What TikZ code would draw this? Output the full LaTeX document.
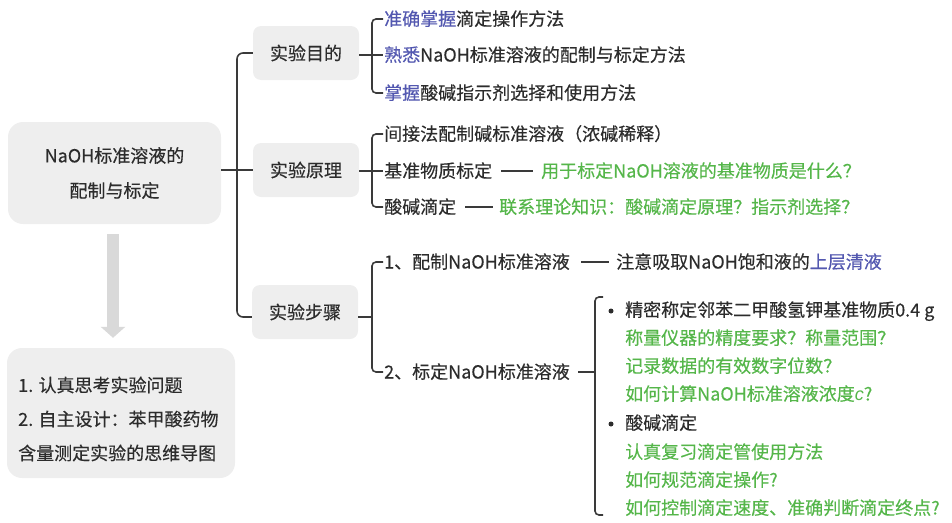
\documentclass[tikz,border=0pt]{standalone}
\usepackage{fontspec}
\setmainfont{Noto Sans CJK SC}[FakeBold=0.35]
\newfontfamily\latinfont{Liberation Sans}
\usetikzlibrary{arrows.meta}
\definecolor{ink}{HTML}{2C2C2C}
\definecolor{cblue}{HTML}{5358B0}
\definecolor{cgreen}{HTML}{55B64A}
\definecolor{boxgray}{HTML}{EEEEEE}
\definecolor{arrowgray}{HTML}{D9D9D9}
\definecolor{linec}{HTML}{3A3A3A}
\begin{document}
\begin{tikzpicture}[x=1pt,y=-1pt,
  every node/.style={font=\fontsize{18}{22}\selectfont, text=ink},
  titlebox/.style={fill=boxgray, rounded corners=8pt, minimum width=106pt, minimum height=54pt, inner sep=0pt},
  bigbox/.style={fill=boxgray, rounded corners=15pt, inner sep=0pt},
  txt/.style={anchor=west, inner sep=1pt, text height=15pt, text depth=2pt},
  qtxt/.style={txt, text=cgreen},
  conn/.style={draw=linec, line width=1.6pt},
  dashc/.style={draw=linec, line width=1.5pt},
  bulletdot/.style={fill=ink},
]
\useasboundingbox (0,0) rectangle (952,522);

% main box and follow-up box
\node[bigbox, minimum width=213pt, minimum height=102pt, align=center, font=\fontsize{18}{35}\selectfont] (main) at (114.5,173) {NaOH标准溶液的\\配制与标定};
\node[bigbox, minimum width=228pt, minimum height=130pt] (bot) at (121,413) {};
\node[anchor=west, align=left, inner sep=0pt, font=\fontsize{18}{34}\selectfont] (bottxt) at (18,419) {1. 认真思考实验问题\\2. 自主设计：苯甲酸药物\\含量测定实验的思维导图};
\draw[draw=arrowgray, line width=12pt, -{Triangle[width=24pt,length=11pt]}, shorten <=10pt, shorten >=10pt] ([xshift=-1.5pt]main.south) -- ([xshift=-1.5pt]main.south |- bot.north);

% level-1 boxes
\node[titlebox] (b1) at (306,53) {实验目的};
\node[titlebox] (b2) at (306,170) {实验原理};
\node[titlebox] (b3) at (305,312) {实验步骤};

\coordinate (spine) at (237,170);
\draw[conn] (main.east |- b2.west) -- (b2.west);
\draw[conn, rounded corners=6pt] (b1.west) -| (spine) |- ([yshift=-5pt]b3.west);

% box 1 items
\node[txt] (t11) at (383,19) {\textcolor{cblue}{准确掌握}滴定操作方法};
\node[txt] (t12) at (383,55) {\textcolor{cblue}{熟悉}NaOH标准溶液的配制与标定方法};
\node[txt] (t13) at (383,93) {\textcolor{cblue}{掌握}酸碱指示剂选择和使用方法};
\coordinate (br1) at (372,55);
\draw[conn] (b1.east |- t12.west) -- (t12.west);
\draw[conn, rounded corners=4pt] (t11.west) -| (br1) |- (t13.west);

% box 2 items
\node[txt] (t21) at (383,134) {间接法配制碱标准溶液（浓碱稀释）};
\node[txt] (t22) at (383,171) {基准物质标定};
\node[txt] (t23) at (383,207) {酸碱滴定};
\node[qtxt] (q22) at (540,171) {用于标定NaOH溶液的基准物质是什么？};
\node[qtxt] (q23) at (498,207) {联系理论知识：酸碱滴定原理？指示剂选择？};
\coordinate (br2) at (372,171);
\draw[conn] (b2.east |- t22.west) -- (t22.west);
\draw[conn, rounded corners=4pt] (t21.west) -| (br2) |- (t23.west);
\draw[dashc, shorten <=8pt, shorten >=7pt] (t22.east) -- (q22.west);
\draw[dashc, shorten <=8pt, shorten >=5pt] (t23.east) -- (q23.west);

% box 3 items
\node[txt] (s1) at (383,262) {1、配制NaOH标准溶液};
\node[txt] (s2) at (383,372) {2、标定NaOH标准溶液};
\node[txt] (n1) at (615,262) {注意吸取NaOH饱和液的\textcolor{cblue}{上层清液}};
\coordinate (br3) at (372,317);
\draw[conn] ([yshift=-5pt]b3.east) -- (br3);
\draw[conn, rounded corners=4pt] (s1.west) -| (br3) |- (s2.west);
\draw[dashc, shorten <=10pt, shorten >=6pt] (s1.east) -- (n1.west);

% sub list
\node[txt] (l1) at (624,310) {精密称定邻苯二甲酸氢钾基准物质0.4 g};
\node[qtxt] (l2) at (624,338) {称量仪器的精度要求？称量范围？};
\node[qtxt] (l3) at (624,366) {记录数据的有效数字位数？};
\node[qtxt] (l4) at (624,394) {如何计算NaOH标准溶液浓度{\latinfont\itshape c}?};
\node[txt] (l5) at (624,423) {酸碱滴定};
\node[qtxt] (l6) at (624,452) {认真复习滴定管使用方法};
\node[qtxt] (l7) at (624,480) {如何规范滴定操作?};
\node[qtxt] (l8) at (624,508) {如何控制滴定速度、准确判断滴定终点?};
\fill[bulletdot] (611,311) circle (2.5pt);
\fill[bulletdot] (611,424) circle (2.5pt);

\coordinate (sb) at (595,372);
\coordinate (sbt) at (603,297);
\coordinate (sbb) at (603,515);
\draw[conn, shorten <=7pt] (s2.east) -- (sb);
\draw[conn, rounded corners=4pt] (sbt) -| (sb) |- (sbb);
\end{tikzpicture}
\end{document}
